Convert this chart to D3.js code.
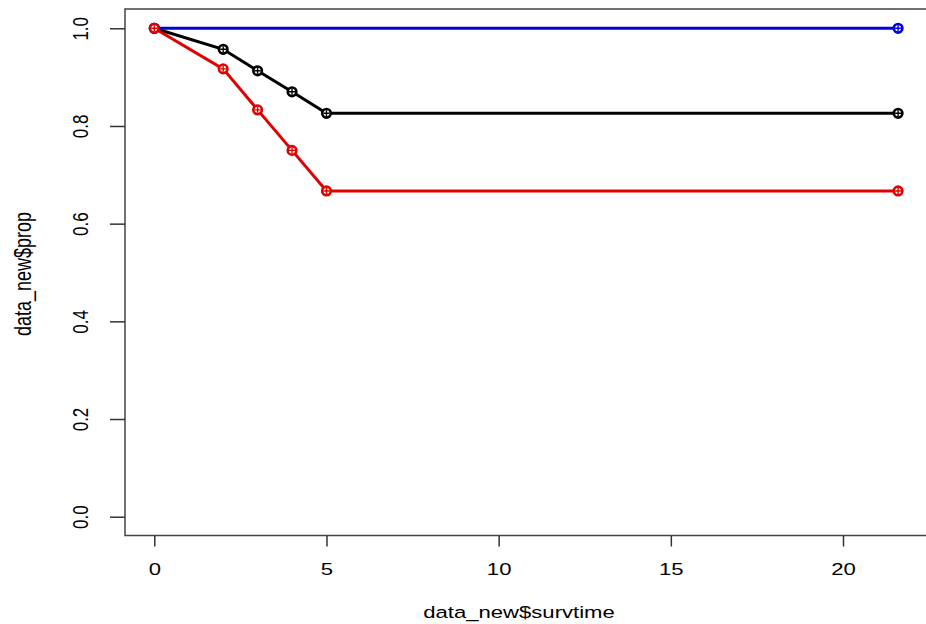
<!DOCTYPE html>
<html>
<head>
<meta charset="utf-8">
<script src="https://cdn.jsdelivr.net/npm/d3@7"></script>
<style>
html,body{margin:0;padding:0;background:#fff;}
svg{display:block;}
text{font-family:"Liberation Sans",Arial,sans-serif;fill:#000;}
</style>
</head>
<body>
<svg id="chart" width="926" height="624"></svg>
<script>
// ---- data ----
const blackTime = [0, 2, 3, 4, 5, 21.6];
const blackProp = [1, 0.957, 0.913, 0.870, 0.826, 0.826];
const blueTime  = [0, 21.6];
const blueProp  = [1, 1];
const redTime   = [0, 2, 3, 4, 5, 21.6];
const redProp   = [1, 0.917, 0.833, 0.750, 0.667, 0.667];
const xTicks = [0, 5, 10, 15, 20];
const yTicks = [0, 0.2, 0.4, 0.6, 0.8, 1.0];
const xLabel = "data_new$survtime";
const yLabel = "data_new$prop";

const SX = 1.3; // horizontal stretch of the reference text
const svg = d3.select("#chart");
const box = {left:125, top:9, right:928, bottom:535.5};
const x = d3.scaleLinear().domain([0, 20]).range([154.3, 843]);
const y = d3.scaleLinear().domain([0, 1]).range([516.7, 28.3]);

// box
svg.append("rect").attr("x", box.left).attr("y", box.top)
  .attr("width", box.right - box.left).attr("height", box.bottom - box.top)
  .attr("fill", "none").attr("stroke", "#444").attr("stroke-width", 1.5);

// x axis
const xa = svg.append("g").attr("transform", `translate(0,${box.bottom})`)
  .call(d3.axisBottom(x).tickValues(xTicks).tickFormat(d3.format("d")).tickSize(11).tickSizeOuter(0));
xa.select(".domain").remove();
xa.selectAll(".tick line").attr("stroke", "#333").attr("stroke-width", 1.5);
xa.selectAll(".tick text").attr("font-size", 17).attr("font-family", "Liberation Sans, Arial, sans-serif").attr("fill", "#000")
  .attr("y", null).attr("dy", null)
  .attr("transform", `translate(0,39.5) scale(${SX},1)`);

// y axis
const ya = svg.append("g").attr("transform", `translate(${box.left},0)`)
  .call(d3.axisLeft(y).tickValues(yTicks).tickFormat(d3.format(".1f")).tickSize(15).tickSizeOuter(0));
ya.select(".domain").remove();
ya.selectAll(".tick line").attr("stroke", "#333").attr("stroke-width", 1.5);
ya.selectAll(".tick text")
  .attr("font-size", 17).attr("font-family", "Liberation Sans, Arial, sans-serif").attr("fill", "#000")
  .attr("x", null).attr("dy", null)
  .attr("text-anchor", "middle")
  .attr("transform", `translate(${88 - box.left},0) scale(${SX},1) rotate(-90)`);

// labels
svg.append("text").attr("transform", `translate(519,618) scale(${SX},1)`).attr("text-anchor", "middle")
  .attr("font-size", 17).text(xLabel);
svg.append("text").attr("transform", `translate(31,274) scale(${SX},1) rotate(-90)`).attr("text-anchor", "middle")
  .attr("font-size", 18).text(yLabel);

// series
const series = [
  {t: blackTime, p: blackProp, color: "#000000"},
  {t: blueTime,  p: blueProp,  color: "#0000dd"},
  {t: redTime,   p: redProp,   color: "#e00000"}
];
const line = d3.line().x(d => x(d[0])).y(d => y(d[1]));
series.forEach(s => {
  const pts = s.t.map((t, i) => [t, s.p[i]]);
  const g = svg.append("g");
  g.append("path").attr("d", line(pts)).attr("fill", "none")
    .attr("stroke", s.color).attr("stroke-width", 3);
  const m = g.selectAll("g.m").data(pts).enter().append("g")
    .attr("transform", d => `translate(${x(d[0])},${y(d[1])})`);
  m.append("circle").attr("r", 4.3).attr("fill", "#fff").attr("stroke", s.color).attr("stroke-width", 2.6);
  m.append("path").attr("d", "M-3,0H3M0,-3V3").attr("stroke", s.color).attr("stroke-width", 1.4);
});
</script>
</body>
</html>
